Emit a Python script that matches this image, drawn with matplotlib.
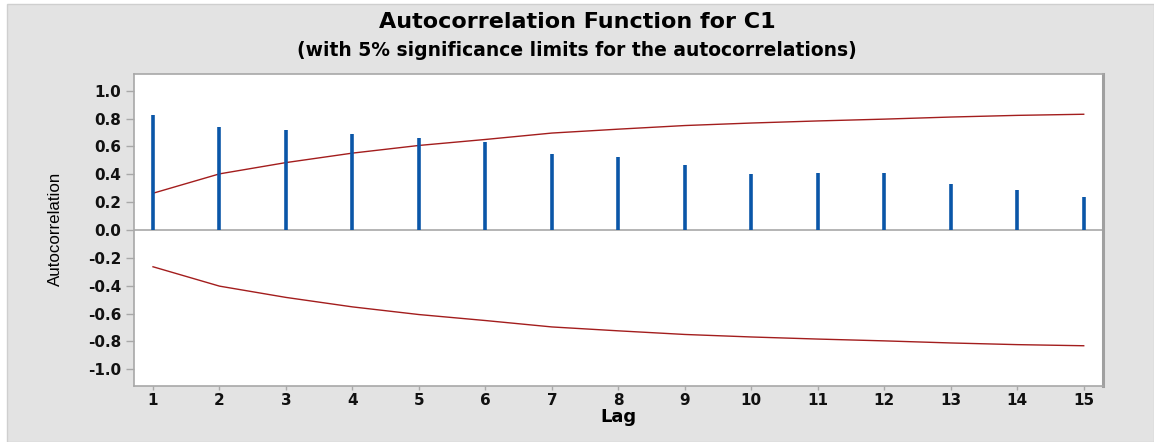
import matplotlib
matplotlib.use("Agg")
import matplotlib.pyplot as plt
from matplotlib.patches import Rectangle

lags = [1, 2, 3, 4, 5, 6, 7, 8, 9, 10, 11, 12, 13, 14, 15]
acf = [0.827, 0.743, 0.719, 0.691, 0.657, 0.631, 0.545, 0.523, 0.466,
       0.400, 0.412, 0.412, 0.333, 0.288, 0.235]
limit = [0.264, 0.403, 0.484, 0.552, 0.607, 0.650, 0.696, 0.724, 0.750,
         0.768, 0.783, 0.796, 0.811, 0.823, 0.831]
yticks = [-1.0, -0.8, -0.6, -0.4, -0.2, 0.0, 0.2, 0.4, 0.6, 0.8, 1.0]

title1 = "Autocorrelation Function for C1"
title2 = "(with 5% significance limits for the autocorrelations)"

W, H = 1154, 442
fig = plt.figure(figsize=(W / 100, H / 100), dpi=100, facecolor="white")
bg = Rectangle((7 / W, 0), 1 - 7 / W, 1 - 4 / H, transform=fig.transFigure,
               facecolor="#e3e3e3", edgecolor="#cfcfcf", linewidth=1.0, zorder=-10)
fig.patches.append(bg)

ax = fig.add_axes([134 / W, 1 - 386 / H, (1103 - 134) / W, (386 - 74) / H], zorder=5)
ax.set_facecolor("white")

ax.vlines(lags, 0, acf, colors="#0a56a8", linewidth=2.6, zorder=3)
ax.plot(lags, limit, color="#a31d1d", linewidth=1.0, zorder=2)
ax.plot(lags, [-v for v in limit], color="#a31d1d", linewidth=1.0, zorder=2)
ax.axhline(0, color="#a8a8a8", linewidth=1.2, zorder=1)

ax.set_xlim(0.714, 15.29)
ax.set_ylim(-1.12, 1.12)
ax.set_xticks(lags)
ax.set_yticks(yticks)
ax.set_yticklabels([f"{v:.1f}" for v in yticks])

font = "DejaVu Sans"
for lab in ax.get_xticklabels() + ax.get_yticklabels():
    lab.set_fontfamily(font)
    lab.set_fontweight("bold")
    lab.set_fontsize(11)
    lab.set_color("#111111")

ax.tick_params(axis="y", direction="out", length=6, width=1, color="#a8a8a8", pad=3)
ax.tick_params(axis="x", direction="out", length=3, width=1, color="#a8a8a8", pad=2)
for side in ["left", "bottom", "top"]:
    ax.spines[side].set_color("#a8a8a8")
    ax.spines[side].set_linewidth(1.2)
ax.spines["right"].set_color("#a0a0a0")
ax.spines["right"].set_linewidth(2.2)

ax.set_xlabel("Lag", fontfamily=font, fontweight="bold", fontsize=13, labelpad=0)
fig.text(55 / W, 1 - 229 / H, "Autocorrelation", rotation=90, ha="center", va="center",
         fontfamily="Liberation Sans", fontsize=12.2)

fig.text(0.5, 1 - 22 / H, title1, ha="center", va="center", fontfamily=font,
         fontweight="bold", fontsize=16)
fig.text(0.5, 1 - 50 / H, title2, ha="center", va="center", fontfamily=font,
         fontweight="bold", fontsize=13.5)

fig.savefig("out.png", dpi=100, facecolor=fig.get_facecolor())
